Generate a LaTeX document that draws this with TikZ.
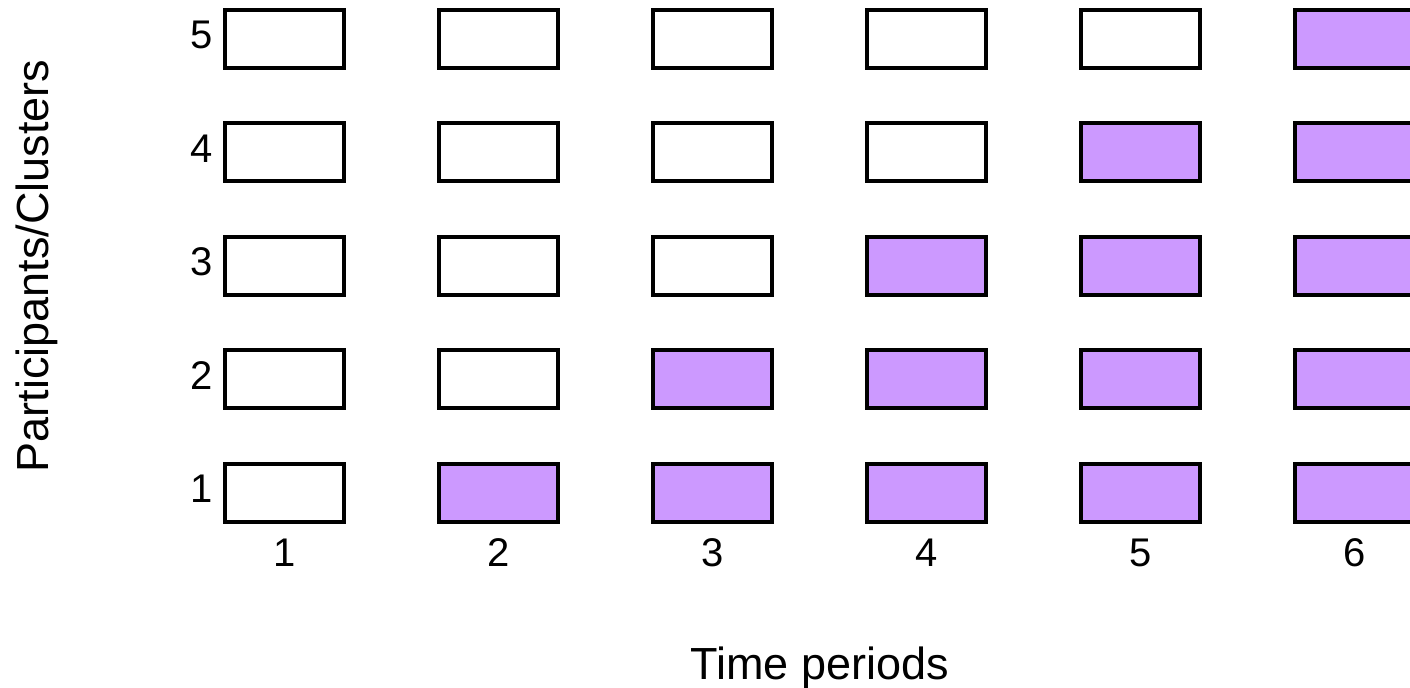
\documentclass[tikz,border=0pt]{standalone}
\usepackage{fontspec}
\setmainfont{Liberation Sans}
\usetikzlibrary{positioning}

\definecolor{treated}{RGB}{204,153,255}

\tikzset{
    cell/.style={draw=black, line width=2pt, minimum width=59.5pt,
        minimum height=29pt, inner sep=0pt},
    rowlabel/.style={font=\fontsize{20}{20}\selectfont, inner sep=0pt, anchor=east},
    collabel/.style={font=\fontsize{20}{20}\selectfont, inner sep=0pt},
    axislabel/.style={font=\fontsize{22.5}{22.5}\selectfont, inner sep=0pt, anchor=base}
}

\begin{document}
\begin{tikzpicture}[x=0.5pt, y=-0.5pt]
    \useasboundingbox (0,0) rectangle (1410,687);

    % cells: column = time period, row = participant/cluster
    \foreach \c in {1,...,6} {
        \foreach \r in {1,...,5} {
            \ifnum\c>\r
                \node[cell, fill=treated] (box-\c-\r)
                    at ({284.5+214*(\c-1)}, {492.5-113.4*(\r-1)}) {};
            \else
                \node[cell, fill=white] (box-\c-\r)
                    at ({284.5+214*(\c-1)}, {492.5-113.4*(\r-1)}) {};
            \fi
        }
    }

    % row numbers
    \foreach \r in {1,...,5} {
        \node[rowlabel] (lab-r\r) at ([xshift=-5pt, yshift=2pt]box-1-\r.west) {\r};
    }

    % column numbers
    \foreach \c in {1,...,6} {
        \node[collabel, below=7.5pt of box-\c-1] (lab-c\c) {\c};
    }

    % axis titles
    \node[axislabel] (xtitle) at (819.5,679) {Time periods};
    \node[axislabel, rotate=90] (ytitle) at (48,266) {Participants/Clusters};
\end{tikzpicture}
\end{document}
